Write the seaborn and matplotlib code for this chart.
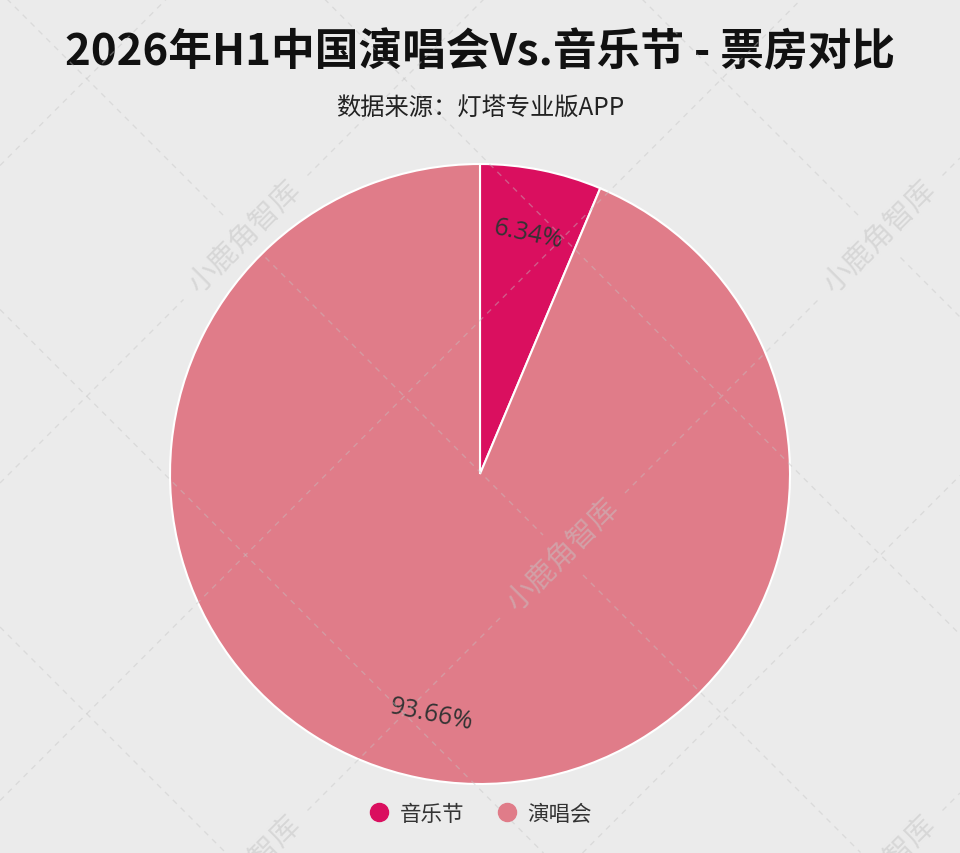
import numpy as np
import seaborn as sns
import matplotlib.pyplot as plt
from matplotlib.lines import Line2D

# data
categories = ["音乐节", "演唱会"]
shares = [6.34, 93.66]
slice_colors = ["#DA0F5F", "#E07C89"]

title = "2026年H1中国演唱会Vs.音乐节 - 票房对比"
subtitle = "数据来源：灯塔专业版APP"
watermark = "小鹿角智库"

sns.set_theme(style="white")
plt.rcParams["font.family"] = ["Noto Sans CJK SC", "DejaVu Sans"]

W, H = 960, 854
BG = "#EBEBEB"
fig = plt.figure(figsize=(W / 100, H / 100), dpi=100, facecolor=BG)

# pie axes: centre (480, 475) px, radius 310 px
cx, cy, r = 480, 475, 310
ax = fig.add_axes([(cx - r) / W, (H - cy - r) / H, 2 * r / W, 2 * r / H])
ax.set_facecolor("none")
wedges, texts, autotexts = ax.pie(
    shares,
    colors=slice_colors,
    startangle=90,
    counterclock=False,
    autopct="%.2f%%",
    pctdistance=0.79,
    wedgeprops=dict(edgecolor="white", linewidth=1.5),
    textprops=dict(color="#333333", fontsize=18, family=["Open Sans", "DejaVu Sans"]),
)
for w, t in zip(wedges, autotexts):
    mid = (w.theta1 + w.theta2) / 2
    rot = (mid - 90) % 360
    if rot > 90 and rot < 270:
        rot -= 180
    t.set_rotation(rot)
    t.set_rotation_mode("anchor")
    t.set_ha("center")
    t.set_va("center")
ax.set_xlim(-1, 1)
ax.set_ylim(-1, 1)
ax.axis("off")

fig.text(0.5, 1 - 52 / H, title, ha="center", va="center",
         fontsize=31.5, fontweight="bold", color="#111111")
fig.text(0.5, 1 - 108 / H, subtitle, ha="center", va="center",
         fontsize=17.5, color="#222222")

handles = [Line2D([], [], marker="o", linestyle="", markersize=13,
                  markerfacecolor=c, markeredgecolor=c) for c in slice_colors]
fig.legend(handles, categories, loc="center", bbox_to_anchor=(0.5, 1 - 815 / H),
           ncol=2, frameon=False, fontsize=15.5, handlelength=1.0,
           handletextpad=0.45, columnspacing=1.5, labelcolor="#333333")

# watermark layer (pixel coords)
wm = fig.add_axes([0, 0, 1, 1], zorder=5)
wm.set_xlim(0, W)
wm.set_ylim(H, 0)
wm.axis("off")
wm.patch.set_alpha(0)

wm_color = "#C4C4C4"
wm_alpha = 0.5
step = 317.5
u0, v0 = 484, 7
text_u = [u0 + 2 * step * i for i in range(-2, 4)]
text_v = [v0 + 2 * step * j for j in range(-3, 3)]
centres = [((u + v) / 2, (u - v) / 2) for u in text_u for v in text_v]
centres = [(x, y) for x, y in centres if 0 < x < W and 0 < y < H + 40]


def split(x0, x1, gaps):
    segs = [(x0, x1)]
    for g0, g1 in gaps:
        out = []
        for a, b in segs:
            if g1 <= a or g0 >= b:
                out.append((a, b))
            else:
                if g0 > a:
                    out.append((a, g0))
                if g1 < b:
                    out.append((g1, b))
        segs = out
    return segs


line_kw = dict(color=wm_color, alpha=0.42, lw=1, linestyle=(0, (4, 4)))
for k in range(-3, 6):
    u = u0 + step * k
    x0, x1 = max(0, u - H), min(W, u)
    if x1 <= x0:
        continue
    gaps = [(x - 62, x + 62) for x, y in centres if abs(x + y - u) < 1]
    for a, b in split(x0, x1, gaps):
        wm.plot([a, b], [u - a, u - b], **line_kw)
for k in range(-4, 5):
    v = v0 + step * k
    x0, x1 = max(0, v), min(W, v + H)
    if x1 <= x0:
        continue
    gaps = [(x - 20, x + 20) for x, y in centres if abs(x - y - v) < 1]
    for a, b in split(x0, x1, gaps):
        wm.plot([a, b], [a - v, b - v], **line_kw)

for x, y in centres:
    wm.text(x, y, watermark, rotation=45, rotation_mode="anchor",
            ha="center", va="center", fontsize=21, color=wm_color,
            alpha=wm_alpha)

fig.savefig("out.png", dpi=100, facecolor=BG)
